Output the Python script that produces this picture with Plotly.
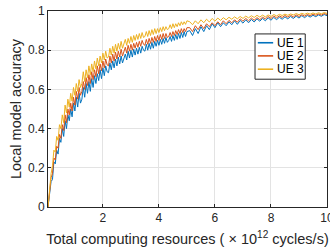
import plotly.graph_objects as go

# x grid: start point, 0.05 steps to 5, then 0.1 steps to 10
x_vals = ([0.04] + [round(0.05 * k, 2) for k in range(2, 101)]
          + [round(0.1 * k, 1) for k in range(51, 101)])

ue1 = [0.0,
       .07, .13, .14, .23, .22, .29, .27, .35, .33, .40,
       .36, .44, .40, .47, .44, .50, .46, .53, .49, .56,
       .51, .58, .53, .55, .61, .56, .63, .58, .64, .59,
       .655, .61, .67, .63, .68, .645, .70, .655, .71, .67,
       .72, .69, .685, .735, .70, .745, .71, .755, .72, .765,
       .73, .77, .735, .755, .78, .75, .795, .76, .80, .765,
       .805, .775, .81, .78, .815, .785, .82, .80, .795, .83,
       .80, .835, .805, .84, .81, .845, .82, .85, .825, .855,
       .83, .86, .835, .865, .84, .85, .87, .845, .875, .85,
       .88, .855, .885, .86, .89, .865, .895, .87, .895,
       0.90, 0.875, 0.91, 0.885, 0.92, 0.895, 0.925, 0.905, 0.935, 0.915,
       0.94, 0.92, 0.94, 0.925, 0.945, 0.93, 0.95, 0.932, 0.952, 0.938,
       0.955, 0.94, 0.957, 0.944, 0.96, 0.948, 0.962, 0.95, 0.965, 0.953,
       0.967, 0.956, 0.968, 0.958, 0.97, 0.96, 0.972, 0.962, 0.974, 0.964,
       0.976, 0.966, 0.977, 0.969, 0.978, 0.971, 0.98, 0.973, 0.982, 0.976]

ue2 = [0.0,
       .09, .15, .17, .25, .24, .31, .30, .37, .35, .42,
       .39, .47, .43, .50, .47, .53, .49, .56, .52, .59,
       .55, .61, .57, .59, .64, .60, .66, .62, .675, .63,
       .69, .65, .70, .665, .72, .68, .73, .695, .745, .71,
       .755, .725, .72, .77, .735, .78, .745, .79, .755, .795,
       .765, .805, .77, .79, .815, .785, .825, .795, .83, .80,
       .835, .81, .84, .815, .845, .82, .85, .83, .825, .855,
       .83, .86, .835, .865, .84, .87, .845, .875, .85, .88,
       .855, .885, .86, .885, .865, .87, .89, .87, .895, .875,
       .90, .88, .905, .885, .91, .89, .91, .895, .915,
       0.915, 0.895, 0.925, 0.905, 0.93, 0.91, 0.935, 0.92, 0.94, 0.925,
       0.945, 0.93, 0.95, 0.935, 0.952, 0.94, 0.955, 0.943, 0.96, 0.948,
       0.962, 0.95, 0.964, 0.953, 0.966, 0.956, 0.968, 0.96, 0.972, 0.962,
       0.974, 0.965, 0.975, 0.967, 0.977, 0.969, 0.978, 0.97, 0.98, 0.972,
       0.981, 0.974, 0.982, 0.976, 0.984, 0.978, 0.985, 0.979, 0.987, 0.982]

ue3 = [0.0,
       .11, .17, .21, .29, .28, .36, .34, .42, .40, .47,
       .43, .52, .48, .55, .51, .58, .54, .61, .57, .63,
       .59, .65, .61, .63, .69, .64, .70, .66, .72, .675,
       .73, .69, .745, .705, .76, .72, .77, .735, .785, .75,
       .795, .76, .765, .81, .775, .82, .785, .83, .795, .835,
       .805, .845, .81, .83, .855, .825, .86, .835, .87, .84,
       .875, .85, .88, .855, .885, .86, .89, .865, .87, .895,
       .87, .90, .875, .905, .88, .91, .885, .91, .89, .915,
       .895, .92, .90, .92, .905, .91, .93, .91, .935, .915,
       .935, .92, .94, .925, .945, .93, .945, .932, .95,
       0.945, 0.93, 0.95, 0.935, 0.955, 0.94, 0.958, 0.944, 0.962, 0.948,
       0.964, 0.952, 0.966, 0.955, 0.968, 0.958, 0.97, 0.96, 0.972, 0.962,
       0.974, 0.965, 0.976, 0.967, 0.978, 0.969, 0.979, 0.97, 0.98, 0.972,
       0.982, 0.975, 0.983, 0.977, 0.984, 0.978, 0.985, 0.98, 0.987, 0.981,
       0.988, 0.983, 0.989, 0.984, 0.99, 0.985, 0.991, 0.986, 0.992, 0.988]

series_names = ["UE 1", "UE 2", "UE 3"]
series_colors = ["#0072BD", "#D95319", "#EDB120"]

x_ticks = [2, 4, 6, 8, 10]
y_ticks = [0, 0.2, 0.4, 0.6, 0.8, 1]
y_tick_labels = ["0", "0.2", "0.4", "0.6", "0.8", "1"]

FONT = "Liberation Sans, Arial, Helvetica, sans-serif"
INK = "#262626"

fig = go.Figure()
for name, ys, col in zip(series_names, [ue1, ue2, ue3], series_colors):
    fig.add_trace(go.Scatter(x=x_vals, y=ys, mode="lines", name=name,
                             line=dict(color=col, width=1), showlegend=False))

axis_common = dict(
    showline=True, mirror="ticks", linecolor=INK, linewidth=1,
    ticks="inside", ticklen=3, tickcolor=INK,
    showgrid=True, gridcolor="#E3E3E3", gridwidth=1, zeroline=False,
    tickfont=dict(family=FONT, size=12, color=INK), automargin=False,
)

fig.update_layout(
    width=330, height=250,
    margin=dict(l=48, r=3, t=11, b=43),
    paper_bgcolor="white", plot_bgcolor="white",
    font=dict(family=FONT, size=12, color=INK),
    xaxis=dict(range=[0.04, 10.0001], tickvals=x_ticks,
               ticktext=[str(v) for v in x_ticks], ticklabeloverflow="allow",
               title=dict(text="Total computing resources ( × 10<sup>12</sup> cycles/s)",
                          font=dict(family=FONT, size=14.5, color=INK), standoff=9),
               **axis_common),
    yaxis=dict(range=[0, 1], tickvals=y_ticks, ticktext=y_tick_labels,
               title=dict(text="Local model accuracy",
                          font=dict(family=FONT, size=14.5, color=INK), standoff=2),
               **axis_common),
    showlegend=False,
)

# Legend box drawn in axes-domain coordinates (MATLAB style)
lx0, lx1, ly0, ly1 = 0.742, 0.922, 0.652, 0.883
fig.add_shape(type="rect", xref="x domain", yref="y domain",
              x0=lx0, x1=lx1, y0=ly0, y1=ly1,
              line=dict(color=INK, width=1), fillcolor="white", layer="above")
row_y = [0.838, 0.771, 0.703]
for name, col, ry in zip(series_names, series_colors, row_y):
    fig.add_shape(type="line", xref="x domain", yref="y domain",
                  x0=0.752, x1=0.807, y0=ry, y1=ry,
                  line=dict(color=col, width=1.6), layer="above")
    fig.add_annotation(xref="x domain", yref="y domain", x=0.813, y=ry,
                       text=name, showarrow=False, xanchor="left", yanchor="middle",
                       font=dict(family=FONT, size=12, color="#000000"))

fig.write_html("out.html", config={"displayModeBar": False},
               post_script="document.body.style.margin='0';document.body.style.overflow='hidden';")
